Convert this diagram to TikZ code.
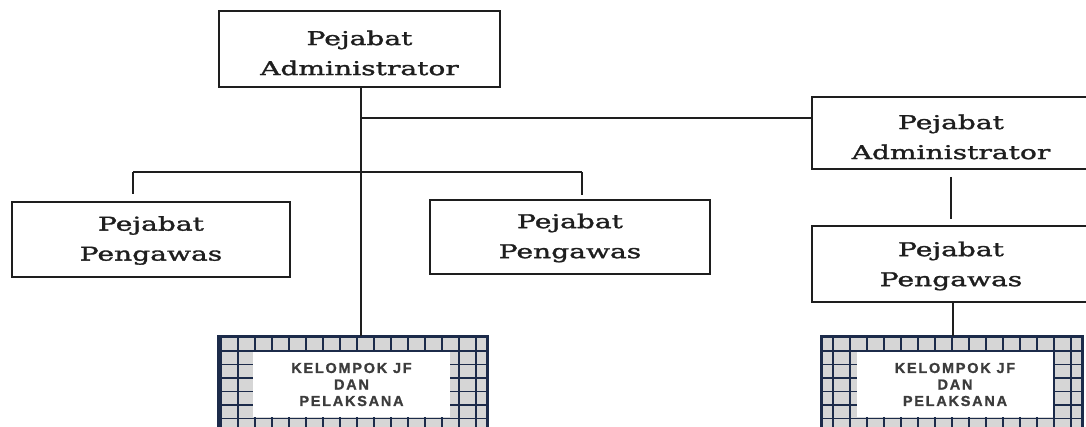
\documentclass[tikz,border=0pt]{standalone}
\usepackage{fontspec}
\setmainfont{DejaVu Serif}[FakeStretch=1.48, FakeBold=1.6]
\newfontfamily\groupfont{Liberation Sans}[LetterSpace=12, FakeBold=1.2]
\definecolor{inkline}{HTML}{1E1E1E}
\definecolor{gridnavy}{HTML}{1C2B4A}
\definecolor{gridfill}{HTML}{D6D6D6}
\definecolor{grouptext}{HTML}{3C3C3C}
\tikzset{
  office/.style={draw=inkline, line width=1.8pt, fill=white, inner sep=0pt},
  officetext/.style={align=center, inner sep=0pt, text=inkline,
    font=\fontsize{19}{30}\selectfont},
  link/.style={draw=inkline, line width=1.6pt},
  gridline/.style={draw=gridnavy, line width=1.3pt},
  gridbox/.style={draw=gridnavy, line width=2.4pt, fill=gridfill, inner sep=0pt},
  groupbox/.style={fill=white, align=center, inner sep=0pt, text=grouptext,
    font=\groupfont\bfseries\fontsize{14.5}{16.5}\selectfont},
}
\begin{document}
\begin{tikzpicture}[x=1pt,y=-1pt]
\useasboundingbox (0,0) rectangle (1086,426);

% offices
\node[office, minimum width=281pt, minimum height=76pt] (adm1) at (359.5,49) {};
\node[officetext, yshift=-4pt] (adm1t) at (adm1.center) {Pejabat\\Administrator};
\node[office, minimum width=278pt, minimum height=72pt] (adm2) at (951,133) {};
\node[officetext, yshift=-4pt] (adm2t) at (adm2.center) {Pejabat\\Administrator};
\node[office, minimum width=278pt, minimum height=75pt] (pw1) at (151,239.5) {};
\node[officetext, yshift=-1pt] (pw1t) at (pw1.center) {Pejabat\\Pengawas};
\node[office, minimum width=280pt, minimum height=74pt] (pw2) at (570,237) {};
\node[officetext, yshift=-1pt] (pw2t) at (pw2.center) {Pejabat\\Pengawas};
\node[office, minimum width=278pt, minimum height=76pt] (pw3) at (951,264) {};
\node[officetext, yshift=-2pt] (pw3t) at (pw3.center) {Pejabat\\Pengawas};

% functional groups
\node[gridbox, minimum width=268pt, minimum height=110pt] (g1) at (353,392) {};
\draw[gridline] (g1.south west) grid[xstep=17pt, ystep=13.5pt] (g1.north east);
\draw[gridnavy, line width=2.4pt] (g1.south west) rectangle (g1.north east);
\node[groupbox, minimum width=197pt, minimum height=65pt] (t1) at (351.5,384.5) {KELOMPOK JF\\DAN\\PELAKSANA};

\node[gridbox, minimum width=260pt, minimum height=110pt] (g2) at (952,392) {};
\draw[gridline] (g2.south west) grid[xstep=17pt, ystep=13.5pt] (g2.north east);
\draw[gridnavy, line width=2.4pt] (g2.south west) rectangle (g2.north east);
\node[groupbox, minimum width=196pt, minimum height=65pt] (t2) at (955,384.5) {KELOMPOK JF\\DAN\\PELAKSANA};

% connectors
\coordinate (j1) at (361,118);
\coordinate (j2) at (133,172);
\coordinate (j3) at (582,172);
\draw[link] (adm1.south -| j1) -- (j1 |- g1.north);
\draw[link] (j1) -- (j1 -| adm2.west);
\draw[link] (j2) -- (j3);
\draw[link, shorten >=7pt] (j2) -- (j2 |- pw1.north);
\draw[link, shorten >=4pt] (j3) -- (j3 |- pw2.north);
\draw[link, shorten <=7pt, shorten >=6pt] (adm2.south) -- (pw3.north);
\draw[link] ([xshift=2pt]pw3.south) -- ([xshift=2pt]pw3.south |- g2.north);
\end{tikzpicture}
\end{document}
